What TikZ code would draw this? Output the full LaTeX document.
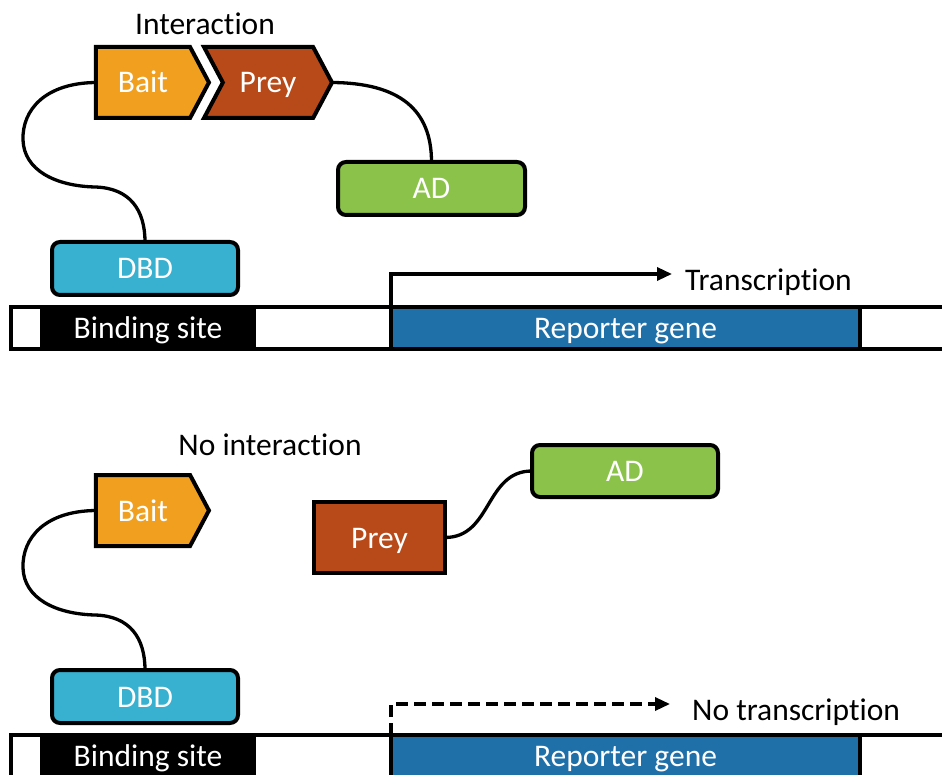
\documentclass[tikz,border=0pt]{standalone}
\usepackage{fontspec}
\setmainfont{Carlito}[Ligatures={NoCommon,NoRare}]
\usetikzlibrary{shapes.symbols,arrows.meta}
\definecolor{baitc}{HTML}{F0A01E}
\definecolor{preyc}{HTML}{B84A19}
\definecolor{adc}{HTML}{8BC34A}
\definecolor{dbdc}{HTML}{38B0CF}
\definecolor{repc}{HTML}{1F70A9}
\begin{document}
\begin{tikzpicture}[x=1pt,y=-1pt,font=\fontsize{31.5}{36}\selectfont,
  box/.style={draw=black,line width=4pt,text=white,inner sep=0pt,outer sep=0pt,text height=21pt,text depth=0pt},
  rbox/.style={box,rounded corners=8pt},
  chev/.style={box,signal,signal to=east,signal pointer angle=124},
  link/.style={line width=3.3pt},
  strip/.style={line width=4pt},
  site/.style={fill=black,text=white,inner sep=0pt,outer sep=0pt,minimum width=216,minimum height=42,text height=21pt,text depth=0pt},
  lbl/.style={text=black,inner sep=0pt},
  tip/.style={-{Triangle[length=15pt,width=13pt]}}]
\useasboundingbox (0,0) rectangle (942,775);
% ---------- top panel ----------
\node[lbl,anchor=base] (inter) at (205,35) {Interaction};
\node[chev,fill=baitc,minimum width=113,minimum height=71] (bait1) at (143,82.5) {Bait};
\node[chev,signal from=west,fill=preyc,minimum width=128,minimum height=71] (prey1) at (268,82.5) {Prey};
\node[rbox,fill=adc,minimum width=187,minimum height=53] (ad1) at (431.5,188.5) {AD};
\node[rbox,fill=dbdc,minimum width=186,minimum height=53] (dbd1) at (145,268.5) {DBD};
\draw[link] (bait1.west) .. controls (45,83) and (22,110) .. (23,140)
  .. controls (24,170) and (55,186) .. (95,187)
  .. controls (130,188) and (145,210) .. (dbd1.north);
\draw[link] (prey1.east) .. controls (400,83) and (431.5,110) .. (ad1.north);
\draw[strip,fill=white] (960,307) -- (11,307) -- (11,349) -- (960,349);
\node[site] (bs1) at (148,328) {Binding site};
\node[box,fill=repc,minimum width=469,minimum height=42] (rep1) at (625.5,328) {Reporter gene};
\node[lbl,anchor=base west] (tr1) at (685,291) {Transcription};
\coordinate (tx1) at (672,274);
\draw[link,tip] (rep1.north west) |- (tx1);
% ---------- bottom panel ----------
\node[lbl,anchor=base] (nointer) at (270,455) {No interaction};
\node[chev,fill=baitc,minimum width=113,minimum height=71] (bait2) at (143,510.5) {Bait};
\node[box,fill=preyc,minimum width=131,minimum height=71] (prey2) at (379.5,537.5) {Prey};
\node[rbox,fill=adc,minimum width=186,minimum height=52] (ad2) at (625,471) {AD};
\node[rbox,fill=dbdc,minimum width=186,minimum height=53] (dbd2) at (145,696.5) {DBD};
\draw[link] (bait2.west) .. controls (45,511) and (22,538) .. (23,568)
  .. controls (24,598) and (55,614) .. (95,615)
  .. controls (130,616) and (145,638) .. (dbd2.north);
\draw[link] (prey2.east) .. controls (492,537.5) and (485,471) .. (ad2.west);
\draw[strip,fill=white] (960,735) -- (11,735) -- (11,777) -- (960,777);
\node[site] (bs2) at (148,756) {Binding site};
\node[box,fill=repc,minimum width=469,minimum height=42] (rep2) at (625.5,756) {Reporter gene};
\node[lbl,anchor=base west] (tr2) at (692,720) {No transcription};
\coordinate (tx2) at (670,704);
\draw[link,tip,dash pattern=on 12pt off 6pt] (rep2.north west) |- (tx2);
\end{tikzpicture}
\end{document}
